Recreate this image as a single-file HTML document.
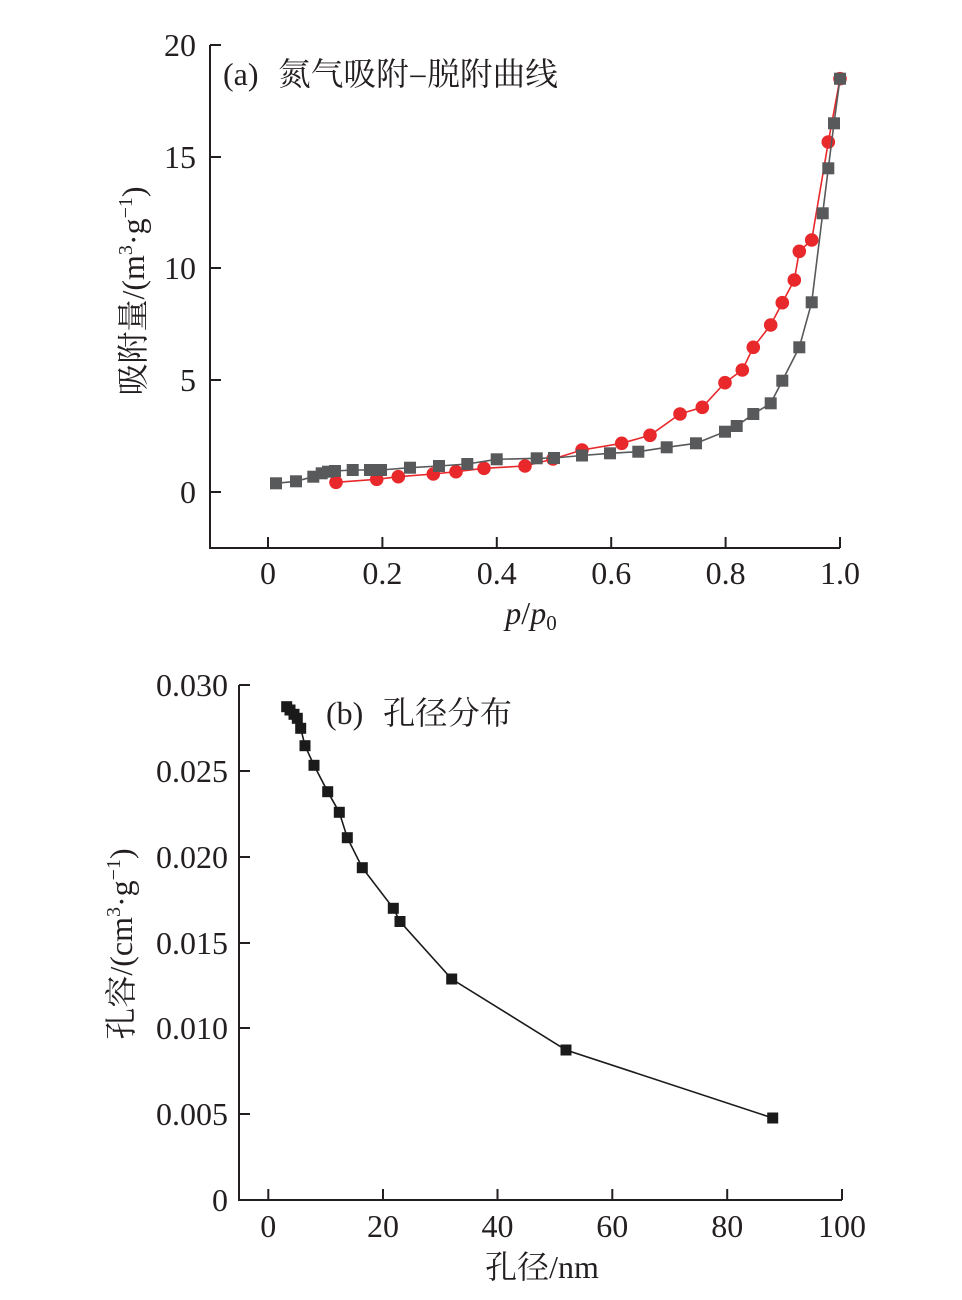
<!DOCTYPE html>
<html><head><meta charset="utf-8"><style>
html,body{margin:0;padding:0;background:#fff;}
svg{display:block;}
text{font-family:"Liberation Serif","Noto Serif CJK SC",serif;fill:#231f20;}
.cjk{font-family:"Noto Serif CJK SC","Liberation Serif",serif;}
</style></head><body>
<svg width="962" height="1300" viewBox="0 0 962 1300" xmlns="http://www.w3.org/2000/svg">
<!-- ===== Chart (a) ===== -->
<g stroke="#231f20" stroke-width="2" fill="none">
<polyline points="210,45 210,548 840,548"/>
<line x1="210" y1="45" x2="221" y2="45"/>
<line x1="210" y1="157" x2="221" y2="157"/>
<line x1="210" y1="268" x2="221" y2="268"/>
<line x1="210" y1="380" x2="221" y2="380"/>
<line x1="210" y1="492" x2="221" y2="492"/>
<line x1="268" y1="548" x2="268" y2="537"/>
<line x1="382.4" y1="548" x2="382.4" y2="537"/>
<line x1="496.8" y1="548" x2="496.8" y2="537"/>
<line x1="611.2" y1="548" x2="611.2" y2="537"/>
<line x1="725.6" y1="548" x2="725.6" y2="537"/>
<line x1="840" y1="548" x2="840" y2="537"/>
</g>
<g font-size="32" text-anchor="end">
<text x="196" y="56">20</text>
<text x="196" y="168">15</text>
<text x="196" y="279">10</text>
<text x="196" y="391">5</text>
<text x="196" y="503">0</text>
</g>
<g font-size="32" text-anchor="middle">
<text x="268" y="584">0</text>
<text x="382.4" y="584">0.2</text>
<text x="496.8" y="584">0.4</text>
<text x="611.2" y="584">0.6</text>
<text x="725.6" y="584">0.8</text>
<text x="840" y="584">1.0</text>
</g>
<text x="531" y="624" font-size="32" text-anchor="middle"><tspan font-style="italic">p</tspan>/<tspan font-style="italic">p</tspan><tspan font-size="21" dy="6">0</tspan></text>
<text x="223" y="85" font-size="32">(a)</text>
<text class="cjk" x="278" y="85" font-size="32" textLength="280" lengthAdjust="spacingAndGlyphs">氮气吸附–脱附曲线</text>
<text transform="translate(144,291) rotate(-90)" font-size="32" text-anchor="middle"><tspan class="cjk">吸附量</tspan>/(m<tspan font-size="20" baseline-shift="12">3</tspan>·g<tspan font-size="20" baseline-shift="12">−1</tspan>)</text>

<!-- red desorption -->
<polyline fill="none" stroke="#e8282b" stroke-width="1.6" points="336,482.3 376.7,479.3 398.3,476.7 433.3,474 456,471.7 484,468.3 525,466 553,459 582,450 621.7,443.3 650,435.3 680,414 702.3,407.3 725,382.7 742.3,370 753.3,347.3 770.7,325 782.3,302.7 794.3,280 799.3,251.3 811.7,240 828.3,142 840,78.7"/>
<g fill="#e8282b">
<circle cx="336" cy="482.3" r="6.8"/><circle cx="376.7" cy="479.3" r="6.8"/><circle cx="398.3" cy="476.7" r="6.8"/><circle cx="433.3" cy="474" r="6.8"/><circle cx="456" cy="471.7" r="6.8"/><circle cx="484" cy="468.3" r="6.8"/><circle cx="525" cy="466" r="6.8"/><circle cx="553" cy="459" r="6.8"/><circle cx="582" cy="450" r="6.8"/><circle cx="621.7" cy="443.3" r="6.8"/><circle cx="650" cy="435.3" r="6.8"/><circle cx="680" cy="414" r="6.8"/><circle cx="702.3" cy="407.3" r="6.8"/><circle cx="725" cy="382.7" r="6.8"/><circle cx="742.3" cy="370" r="6.8"/><circle cx="753.3" cy="347.3" r="6.8"/><circle cx="770.7" cy="325" r="6.8"/><circle cx="782.3" cy="302.7" r="6.8"/><circle cx="794.3" cy="280" r="6.8"/><circle cx="799.3" cy="251.3" r="6.8"/><circle cx="811.7" cy="240" r="6.8"/><circle cx="828.3" cy="142" r="6.8"/><circle cx="840" cy="78.7" r="6.8"/>
</g>
<!-- gray adsorption -->
<polyline fill="none" stroke="#58595b" stroke-width="1.6" points="276,483.3 296,481.3 313.3,476.7 321.7,473.3 328,471.7 335,471 352.7,470 370,470 381,470 410,467.7 439,466 467.3,464 496.7,459.3 536.7,458.3 554,458 582,455.5 610,453.3 638.3,451.7 666.7,447.3 696,443.3 725,431.7 736.7,426 753.3,414 770.7,403.3 782.3,380.7 799.3,347.3 811.7,302.3 822.7,213.3 828.3,168.3 834,123.3 840,78.7"/>
<g fill="#58595b">
<rect x="270" y="477.3" width="12" height="12"/><rect x="290" y="475.3" width="12" height="12"/><rect x="307.3" y="470.7" width="12" height="12"/><rect x="315.7" y="467.3" width="12" height="12"/><rect x="322" y="465.7" width="12" height="12"/><rect x="329" y="465" width="12" height="12"/><rect x="346.7" y="464" width="12" height="12"/><rect x="364" y="464" width="12" height="12"/><rect x="375" y="464" width="12" height="12"/><rect x="404" y="461.7" width="12" height="12"/><rect x="433" y="460" width="12" height="12"/><rect x="461.3" y="458" width="12" height="12"/><rect x="490.7" y="453.3" width="12" height="12"/><rect x="530.7" y="452.3" width="12" height="12"/><rect x="548" y="452" width="12" height="12"/><rect x="576" y="449.5" width="12" height="12"/><rect x="604" y="447.3" width="12" height="12"/><rect x="632.3" y="445.7" width="12" height="12"/><rect x="660.7" y="441.3" width="12" height="12"/><rect x="690" y="437.3" width="12" height="12"/><rect x="719" y="425.7" width="12" height="12"/><rect x="730.7" y="420" width="12" height="12"/><rect x="747.3" y="408" width="12" height="12"/><rect x="764.7" y="397.3" width="12" height="12"/><rect x="776.3" y="374.7" width="12" height="12"/><rect x="793.3" y="341.3" width="12" height="12"/><rect x="805.7" y="296.3" width="12" height="12"/><rect x="816.7" y="207.3" width="12" height="12"/><rect x="822.3" y="162.3" width="12" height="12"/><rect x="828" y="117.3" width="12" height="12"/><rect x="834" y="72.7" width="12" height="12"/>
</g>

<!-- ===== Chart (b) ===== -->
<g stroke="#231f20" stroke-width="2" fill="none">
<polyline points="239,685 239,1200 842,1200"/>
<line x1="239" y1="685" x2="250" y2="685"/>
<line x1="239" y1="771" x2="250" y2="771"/>
<line x1="239" y1="857" x2="250" y2="857"/>
<line x1="239" y1="943" x2="250" y2="943"/>
<line x1="239" y1="1028" x2="250" y2="1028"/>
<line x1="239" y1="1114" x2="250" y2="1114"/>
<line x1="268.3" y1="1200" x2="268.3" y2="1189"/>
<line x1="383" y1="1200" x2="383" y2="1189"/>
<line x1="497.5" y1="1200" x2="497.5" y2="1189"/>
<line x1="612.3" y1="1200" x2="612.3" y2="1189"/>
<line x1="727.2" y1="1200" x2="727.2" y2="1189"/>
<line x1="842" y1="1200" x2="842" y2="1189"/>
</g>
<g font-size="32" text-anchor="end">
<text x="228" y="696">0.030</text>
<text x="228" y="782">0.025</text>
<text x="228" y="868">0.020</text>
<text x="228" y="954">0.015</text>
<text x="228" y="1039">0.010</text>
<text x="228" y="1125">0.005</text>
<text x="228" y="1211">0</text>
</g>
<g font-size="32" text-anchor="middle">
<text x="268.3" y="1237">0</text>
<text x="383" y="1237">20</text>
<text x="497.5" y="1237">40</text>
<text x="612.3" y="1237">60</text>
<text x="727.2" y="1237">80</text>
<text x="842" y="1237">100</text>
</g>
<text x="542" y="1278" font-size="32" text-anchor="middle"><tspan class="cjk">孔径</tspan>/nm</text>
<text x="326" y="724" font-size="32">(b)</text>
<text class="cjk" x="383" y="724" font-size="32" textLength="129" lengthAdjust="spacingAndGlyphs">孔径分布</text>
<text transform="translate(132,944) rotate(-90)" font-size="32" text-anchor="middle"><tspan class="cjk">孔容</tspan>/(cm<tspan font-size="20" baseline-shift="12">3</tspan>·g<tspan font-size="20" baseline-shift="12">−1</tspan>)</text>

<polyline fill="none" stroke="#1a1a1a" stroke-width="1.6" points="286.7,706.7 290,710 294,714.3 297.3,718.3 300.7,728.3 305,745.7 314,765.3 327.7,791.7 339.3,812.3 347.3,837.7 362.3,867.7 393.3,908.3 400,921.5 451.7,979 566,1050 772.7,1118"/>
<g fill="#1a1a1a">
<rect x="281.2" y="701.2" width="11" height="11"/><rect x="284.5" y="704.5" width="11" height="11"/><rect x="288.5" y="708.8" width="11" height="11"/><rect x="291.8" y="712.8" width="11" height="11"/><rect x="295.2" y="722.8" width="11" height="11"/><rect x="299.5" y="740.2" width="11" height="11"/><rect x="308.5" y="759.8" width="11" height="11"/><rect x="322.2" y="786.2" width="11" height="11"/><rect x="333.8" y="806.8" width="11" height="11"/><rect x="341.8" y="832.2" width="11" height="11"/><rect x="356.8" y="862.2" width="11" height="11"/><rect x="387.8" y="902.8" width="11" height="11"/><rect x="394.5" y="916" width="11" height="11"/><rect x="446.2" y="973.5" width="11" height="11"/><rect x="560.5" y="1044.5" width="11" height="11"/><rect x="767.2" y="1112.5" width="11" height="11"/>
</g>
</svg>
</body></html>
